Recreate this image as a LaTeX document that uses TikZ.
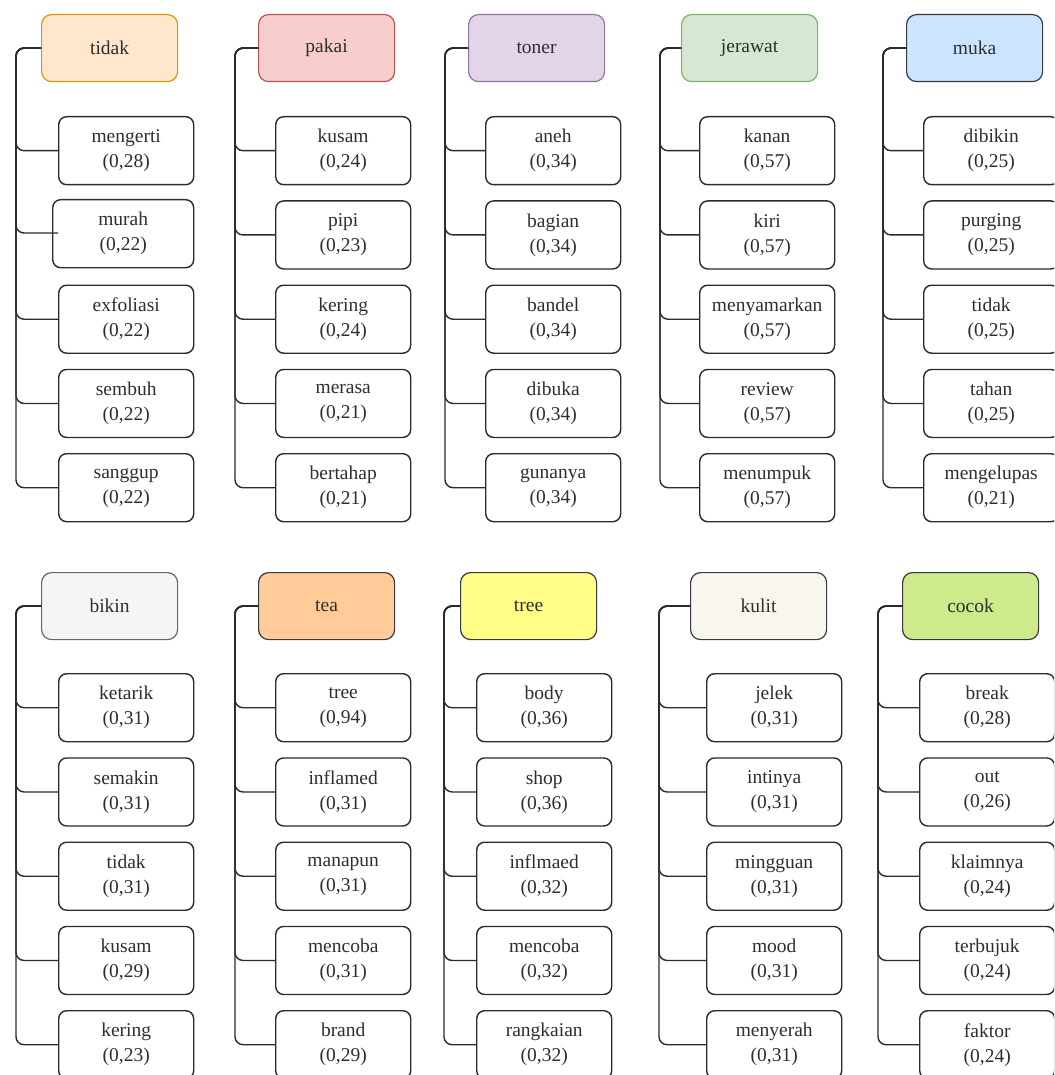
\documentclass[tikz,border=0pt]{standalone}
\usepackage{fontspec}
\setmainfont{Liberation Serif}
\definecolor{txt}{HTML}{2E2E2E}
\definecolor{edge}{HTML}{2B2B2B}
\tikzset{
  rootbox/.style={draw, rounded corners=10pt, minimum width=136pt, minimum height=67pt,
    line width=1.2pt, anchor=north west, font=\fontsize{19.5}{24}\selectfont, text=txt, inner sep=0pt},
  leaf/.style={draw=edge, fill=white, rounded corners=8pt, minimum width=135pt, minimum height=68pt,
    line width=1.4pt, anchor=north west, align=center, font=\fontsize{19.5}{25}\selectfont,
    text=txt, inner sep=0pt},
  conn/.style={draw=edge, line width=1.4pt, rounded corners=8pt},
}
% #1 id, #2 root x, #3 root top, #4 trunk x, #5 child x, #6 first child top, #7 root style, #8 root text, #9 list
\newcommand\treecol[9]{%
  \node[rootbox,#7] (#1) at (#2,#3) {#8};
  \coordinate (#1t) at (#4,#3);
  \foreach \w/\v [count=\i] in {#9} {
    \node[leaf] (#1-\i) at (#5,{#6+(\i-1)*84.25}) {\w\\(0,\v)};
    \draw[conn] (#1.west) -- (#1.west -| #1t) |- (#1-\i.west);
  }%
}
\begin{document}
\begin{tikzpicture}[x=1pt,y=-1pt]
\useasboundingbox (0,0) rectangle (1054,1075);
\clip (0,0) rectangle (1054,1075);
\fill[white] (0,0) rectangle (1054,1075);

% ---------- row 1, column 1 (drawn by hand: 'murah' box is offset) ----------
\node[rootbox,fill={rgb,255:red,255;green,230;blue,204},draw={rgb,255:red,215;green,155;blue,0}] (c1) at (41,14) {tidak};
\coordinate (c1t) at (16,14);
\node[leaf] (c1-1) at (58,116) {mengerti\\(0,28)};
\node[leaf,minimum width=141pt] (c1-2) at (52,199) {murah\\(0,22)};
\coordinate (c1-2e) at (58,233);
\node[leaf] (c1-3) at (58,284.5) {exfoliasi\\(0,22)};
\node[leaf] (c1-4) at (58,368.75) {sembuh\\(0,22)};
\node[leaf] (c1-5) at (58,453) {sanggup\\(0,22)};
\draw[conn] (c1.west) -- (c1.west -| c1t) |- (c1-1.west);
\draw[conn] (c1.west) -- (c1.west -| c1t) |- (c1-2e);
\draw[conn] (c1.west) -- (c1.west -| c1t) |- (c1-3.west);
\draw[conn] (c1.west) -- (c1.west -| c1t) |- (c1-4.west);
\draw[conn] (c1.west) -- (c1.west -| c1t) |- (c1-5.west);

% ---------- row 1 ----------
\treecol{c2}{258}{14}{235}{275}{116}{fill={rgb,255:red,248;green,206;blue,204},draw={rgb,255:red,184;green,84;blue,80}}{pakai}{kusam/24,pipi/23,kering/24,merasa/21,bertahap/21}
\treecol{c3}{468}{14}{445}{485}{116}{fill={rgb,255:red,225;green,213;blue,231},draw={rgb,255:red,150;green,115;blue,166}}{toner}{aneh/34,bagian/34,bandel/34,dibuka/34,gunanya/34}
\treecol{c4}{681}{14}{660}{699}{116}{fill={rgb,255:red,213;green,232;blue,212},draw={rgb,255:red,130;green,179;blue,102}}{jerawat}{kanan/57,kiri/57,menyamarkan/57,review/57,menumpuk/57}
\treecol{c5}{906}{14}{883}{923}{116}{fill={rgb,255:red,204;green,229;blue,255},draw={rgb,255:red,54;green,57;blue,61}}{muka}{dibikin/25,purging/25,tidak/25,tahan/25,mengelupas/21}

% ---------- row 2 ----------
\treecol{d1}{41}{572}{16}{58}{673}{fill={rgb,255:red,245;green,245;blue,245},draw={rgb,255:red,102;green,102;blue,102}}{bikin}{ketarik/31,semakin/31,tidak/31,kusam/29,kering/23}
\treecol{d2}{258}{572}{235}{275}{673}{fill={rgb,255:red,255;green,204;blue,153},draw={rgb,255:red,54;green,57;blue,61}}{tea}{tree/94,inflamed/31,manapun/31,mencoba/31,brand/29}
\treecol{d3}{460}{572}{444}{476}{673}{fill={rgb,255:red,255;green,255;blue,136},draw={rgb,255:red,54;green,57;blue,61}}{tree}{body/36,shop/36,inflmaed/32,mencoba/32,rangkaian/32}
\treecol{d4}{690}{572}{659}{706}{673}{fill={rgb,255:red,249;green,247;blue,237},draw={rgb,255:red,54;green,57;blue,61}}{kulit}{jelek/31,intinya/31,mingguan/31,mood/31,menyerah/31}
\treecol{d5}{902}{572}{878}{919}{673}{fill={rgb,255:red,205;green,235;blue,139},draw={rgb,255:red,54;green,57;blue,61}}{cocok}{break/28,out/26,klaimnya/24,terbujuk/24,faktor/24}
\end{tikzpicture}
\end{document}
